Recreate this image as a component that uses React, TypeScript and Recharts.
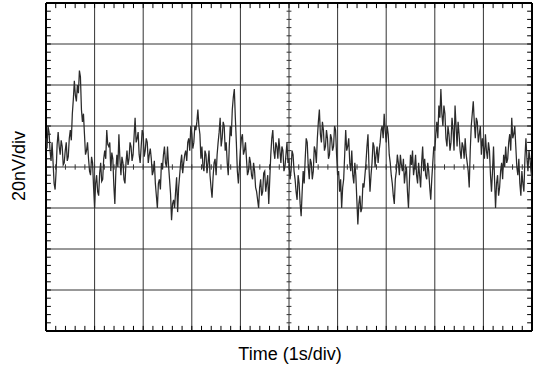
import { LineChart, Line, XAxis, YAxis, ReferenceLine } from 'recharts'

// noise trace in nV, one pair of divisions (2 s) at a time
const SEG_1 = [14, 9, 20, 17, 8, 3, 12, 2, -8, -11, -2, 11, 17, 10, 6, 13, 10, 1, 2, 8, 12, 3, 5, 14, 18, 13, 26, 33, 42, 35, 32, 40, 36, 47, 44, 28, 22, 26, 16, 6, 8, 12, 4, -2, -4, 5, 2, -10, -20, -8, -4, -12, -14, -3, 2, -7, -6, 4, 8, 4, 18, 11, 10, 12, -2, 7, 4, -9, -18, -2, 6, 0, 16, 4, -4, 5, 2, -6, -8, 2]
const SEG_2 = [8, 1, 4, 12, 10, 3, 6, 15, 24, 12, 14, 17, 6, 2, 10, 18, 16, 5, 8, 14, 12, 2, 6, 9, 4, -4, -2, 3, -8, -14, -20, -8, -6, -11, 2, -1, 6, 10, 2, 0, 10, 1, -6, -13, -26, -18, -16, -20, -12, -5, -22, -10, -4, 2, 6, -3, 2, 6, 8, 3, 12, 14, 8, 20, 16, 9, 12, 20, 18, 22, 28, 20, 16, 4, 10, 0, -2, 8, 6, -3]
const SEG_3 = [2, 8, -4, -10, -15, -5, 2, 4, -4, 6, 12, 17, 24, 10, 14, 22, 20, 8, 12, 2, -4, 10, 20, 15, 28, 34, 38, 24, 12, -2, -8, 0, 8, 14, 16, 6, 8, 12, 4, -4, -2, 5, 2, -4, -6, 2, -2, -10, -12, -16, -20, -10, -6, -14, -12, -3, -2, -12, -8, -4, -18, -6, 6, 14, 18, 8, 4, 12, 10, 4, 14, 8, 2, 10, 8, -2, 0, 6, 12, 2]
const SEG_4 = [4, -6, -2, 8, 6, -2, -6, -12, -16, -4, -8, -18, -24, -12, -2, -8, 4, 14, 12, 0, -6, 4, 2, -6, -2, 10, 8, 2, 14, 22, 28, 16, 12, 22, 18, 8, 10, 18, 14, 4, 6, 16, 14, 8, 10, 20, 18, 6, -4, -2, -12, -6, -20, -10, -6, 6, 18, 8, 10, 14, 2, -2, 8, -4, -8, 2, -4, -16, -28, -18, -14, -22, -20, -8, -10, -4, 2, 10, 16, 0]
const SEG_5 = [-12, -4, 2, 12, 10, 0, 6, 10, 2, 8, 12, 18, 20, 14, 26, 18, 12, 20, 16, 6, 2, -4, -8, -14, -18, -6, -2, 6, 2, -4, 6, 1, -2, 4, -8, -3, 0, -12, -20, -6, 6, 1, 8, -4, 0, 6, -4, -8, 2, -4, -10, 2, 10, -2, 4, -4, -6, 2, -2, -10, -16, -6, 2, 10, 8, 16, 22, 14, 30, 24, 38, 26, 20, 30, 26, 14, 10, 20, 16, 8]
const SEG_6 = [12, 24, 18, 8, 30, 20, 10, 22, 16, 8, 4, 12, 10, 4, 14, 6, 2, -2, -10, 8, 20, 26, 32, 22, 14, 24, 22, 12, 16, 20, 6, 14, 10, 4, 16, 8, 4, 12, 8, -4, -12, -2, 10, -6, -20, -8, -4, -14, -10, -2, 2, -6, 6, 0, 10, 2, 4, 12, 16, 8, 24, 14, 16, 20, 10, 0, -4, 4, -8, -14, -2, -8, -12, 4, 14, 4, -2, 8, 4, -2, -6]

const TRACE = [...SEG_1, ...SEG_2, ...SEG_3, ...SEG_4, ...SEG_5, ...SEG_6]

// 1 s/div across, 20 nV/div up
const MAJOR_T = [1, 2, 3, 4, 5, 6, 7, 8, 9]
const MAJOR_V = [-60, -40, -20, 0, 20, 40, 60]
const MINOR_T = Array.from({ length: 51 }, (_, i) => +(i * 0.2).toFixed(1))
const MINOR_V = Array.from({ length: 41 }, (_, i) => -80 + i * 4)

const data = TRACE.map((v, i) => ({ t: (i * 10) / (TRACE.length - 1), v }))

export default function App() {
  return (
    <div style={{ position: 'relative', width: 546, height: 378, background: '#fff', fontFamily: '"Liberation Sans", Arial, sans-serif' }}>
      <style>{'body{margin:0}'}</style>
      <LineChart width={546} height={378} data={data} margin={{ top: 3, right: 14, bottom: 47, left: 46 }}>
        <XAxis dataKey="t" type="number" domain={[0, 10]} hide />
        <YAxis type="number" domain={[-80, 80]} hide />
        {MAJOR_T.map((t) => <ReferenceLine key={'gx' + t} x={t} stroke="#333" />)}
        {MAJOR_V.map((v) => <ReferenceLine key={'gy' + v} y={v} stroke="#333" />)}
        {/* minor ticks on the centre cross */}
        {MINOR_T.map((t) => (
          <ReferenceLine key={'ct' + t} segment={[{ x: t, y: -1.3 }, { x: t, y: 1.3 }]} stroke="#333" />
        ))}
        {MINOR_V.map((v) => (
          <ReferenceLine key={'cv' + v} segment={[{ x: 4.95, y: v }, { x: 5.05, y: v }]} stroke="#333" />
        ))}
        {/* minor ticks along the frame */}
        {MINOR_T.map((t) => (
          <ReferenceLine key={'bt' + t} segment={[{ x: t, y: -80 }, { x: t, y: -77.5 }]} stroke="#000" />
        ))}
        {MINOR_T.map((t) => (
          <ReferenceLine key={'tt' + t} segment={[{ x: t, y: 80 }, { x: t, y: 77.5 }]} stroke="#000" />
        ))}
        {MINOR_V.map((v) => (
          <ReferenceLine key={'lt' + v} segment={[{ x: 0, y: v }, { x: 0.1, y: v }]} stroke="#000" />
        ))}
        {MINOR_V.map((v) => (
          <ReferenceLine key={'rt' + v} segment={[{ x: 10, y: v }, { x: 9.9, y: v }]} stroke="#000" />
        ))}
        <ReferenceLine x={0} stroke="#000" strokeWidth={2} />
        <ReferenceLine x={10} stroke="#000" strokeWidth={2} />
        <ReferenceLine y={-80} stroke="#000" strokeWidth={2} />
        <ReferenceLine y={80} stroke="#000" strokeWidth={2} />
        <Line type="linear" dataKey="v" stroke="#2a2a2a" strokeWidth={1.25} dot={false} isAnimationActive={false} />
      </LineChart>
      <div style={{ position: 'absolute', left: 0, width: 580, top: 344, textAlign: 'center', fontSize: 18, color: '#000' }}>Time (1s/div)</div>
      <div style={{ position: 'absolute', left: 19, top: 166, transform: 'translate(-50%, -50%) rotate(-90deg)', fontSize: 18, color: '#000', whiteSpace: 'nowrap' }}>20nV/div</div>
    </div>
  )
}
